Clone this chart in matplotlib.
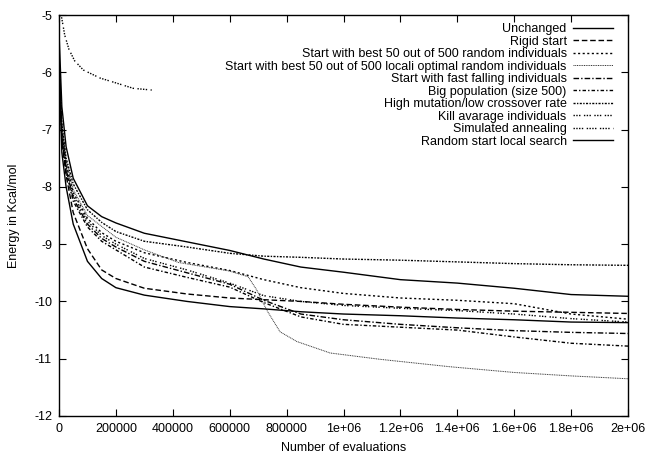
import matplotlib
matplotlib.use("Agg")
import matplotlib.pyplot as plt

plt.rcParams['font.family'] = ['Liberation Sans', 'DejaVu Sans']

# evaluations grid shared by most runs
evals = [0, 10000, 25000, 50000, 100000, 150000, 200000, 300000, 450000, 600000,
         720000, 850000, 1000000, 1200000, 1400000, 1600000, 1800000, 2000000]

unchanged = [-5.3, -6.6, -7.3, -7.85, -8.33, -8.52, -8.63, -8.81, -8.96, -9.11,
             -9.26, -9.40, -9.49, -9.62, -9.68, -9.77, -9.88, -9.91]
rigid = [-5.8, -7.2, -7.8, -8.45, -9.08, -9.45, -9.6, -9.77, -9.87, -9.94,
         -9.97, -10.0, -10.05, -10.1, -10.14, -10.17, -10.19, -10.21]
best_random = [-5.8, -7.0, -7.6, -8.1, -8.55, -8.8, -8.95, -9.15, -9.32, -9.46,
               -9.62, -9.76, -9.86, -9.94, -9.98, -10.04, -10.22, -10.31]
fast_falling = [-5.8, -7.1, -7.7, -8.2, -8.65, -8.9, -9.05, -9.3, -9.5, -9.7,
                -9.98, -10.22, -10.32, -10.4, -10.46, -10.51, -10.54, -10.56]
big_pop = [-5.8, -7.1, -7.75, -8.25, -8.7, -8.95, -9.1, -9.4, -9.58, -9.75,
           -10.02, -10.27, -10.40, -10.45, -10.5, -10.62, -10.73, -10.78]
high_mut = [-5.8, -6.9, -7.5, -7.95, -8.4, -8.62, -8.78, -8.95, -9.05, -9.16,
            -9.21, -9.23, -9.26, -9.28, -9.31, -9.34, -9.36, -9.37]
kill_avg = [-5.8, -7.0, -7.65, -8.15, -8.6, -8.85, -9.0, -9.25, -9.45, -9.68,
            -9.9, -10.0, -10.07, -10.12, -10.16, -10.22, -10.3, -10.36]
local_search = [-5.8, -7.4, -8.0, -8.65, -9.3, -9.6, -9.76, -9.89, -10.0, -10.09,
                -10.13, -10.18, -10.22, -10.25, -10.29, -10.32, -10.36, -10.37]

# locali optimal start has its own sampling (sharp drop near 700000)
lo_evals = [0, 10000, 25000, 50000, 100000, 200000, 300000, 420000, 600000, 665000,
            695000, 730000, 777000, 836000, 953000, 1128000, 1374000, 1600000, 1800000, 2000000]
lo_best = [-5.8, -6.9, -7.55, -8.05, -8.5, -8.88, -9.1, -9.32, -9.47, -9.57,
           -9.80, -10.15, -10.53, -10.70, -10.90, -11.01, -11.14, -11.24, -11.30, -11.35]

# simulated annealing stops early
sa_evals = [3000, 9500, 20000, 35000, 55000, 85500, 144000, 203000, 261000, 326000]
sa_energy = [-5.0, -5.05, -5.35, -5.6, -5.8, -5.96, -6.10, -6.19, -6.28, -6.31]

labels = ["Unchanged", "Rigid start",
          "Start with best 50 out of 500 random individuals",
          "Start with best 50 out of 500 locali optimal random individuals",
          "Start with fast falling individuals", "Big population (size 500)",
          "High mutation/low crossover rate", "Kill avarage individuals",
          "Simulated annealing", "Random start local search"]

xticks = [0, 200000, 400000, 600000, 800000, 1000000, 1200000, 1400000, 1600000, 1800000, 2000000]
xticklabels = ["0", "200000", "400000", "600000", "800000", "1e+06", "1.2e+06",
               "1.4e+06", "1.6e+06", "1.8e+06", "2e+06"]
yticks = [-12, -11, -10, -9, -8, -7, -6, -5]

fig = plt.figure(figsize=(6.48, 4.54), dpi=100)
ax = fig.add_axes([59 / 648, 1 - 416 / 454, 569 / 648, 401 / 454])

lw = 1.0
ax.plot(evals, unchanged, color="black", lw=lw, ls="-", label=labels[0])
ax.plot(evals, rigid, color="black", lw=lw, ls=(0, (4, 2)), label=labels[1])
ax.plot(evals, best_random, color="black", lw=lw, ls=(0, (1.5, 1.8)), label=labels[2])
ax.plot(lo_evals, lo_best, color="#333333", lw=0.7, ls=(0, (1, 0.8)), label=labels[3])
ax.plot(evals, fast_falling, color="black", lw=lw, ls=(0, (4, 1.5, 1, 1.5)), label=labels[4])
ax.plot(evals, big_pop, color="black", lw=lw, ls=(0, (2.5, 1.5, 1, 1.5)), label=labels[5])
ax.plot(evals, high_mut, color="black", lw=lw, ls=(0, (1.5, 1, 1, 1)), label=labels[6])
ax.plot(evals, kill_avg, color="black", lw=lw, ls=(0, (1, 1, 1, 1, 1, 2.5)), label=labels[7])
ax.plot(sa_evals, sa_energy, color="black", lw=lw, ls=(0, (1, 1, 1, 1, 1, 1, 1, 2.5)), label=labels[8])
ax.plot(evals, local_search, color="black", lw=lw, ls="-", label=labels[9])

ax.set_xlim(0, 2000000)
ax.set_ylim(-12, -5)
ax.set_xticks(xticks)
ax.set_xticklabels(xticklabels)
ax.set_yticks(yticks)
ax.set_yticklabels([str(v) for v in yticks])
ax.tick_params(direction="in", top=True, right=True, length=5, width=0.8,
               labelsize=9, pad=5)
for s in ax.spines.values():
    s.set_linewidth(1.0)

ax.set_xlabel("Number of evaluations", fontsize=9, labelpad=5)
ax.set_ylabel("Energy in Kcal/mol", fontsize=9, labelpad=10)

leg = ax.legend(loc="upper right", frameon=False, markerfirst=False, fontsize=9,
                handlelength=3.2, handletextpad=0.5, labelspacing=0.04,
                borderaxespad=0, borderpad=0, alignment="right",
                bbox_to_anchor=(0.9736, 0.98))

fig.savefig("out.png", dpi=100)
